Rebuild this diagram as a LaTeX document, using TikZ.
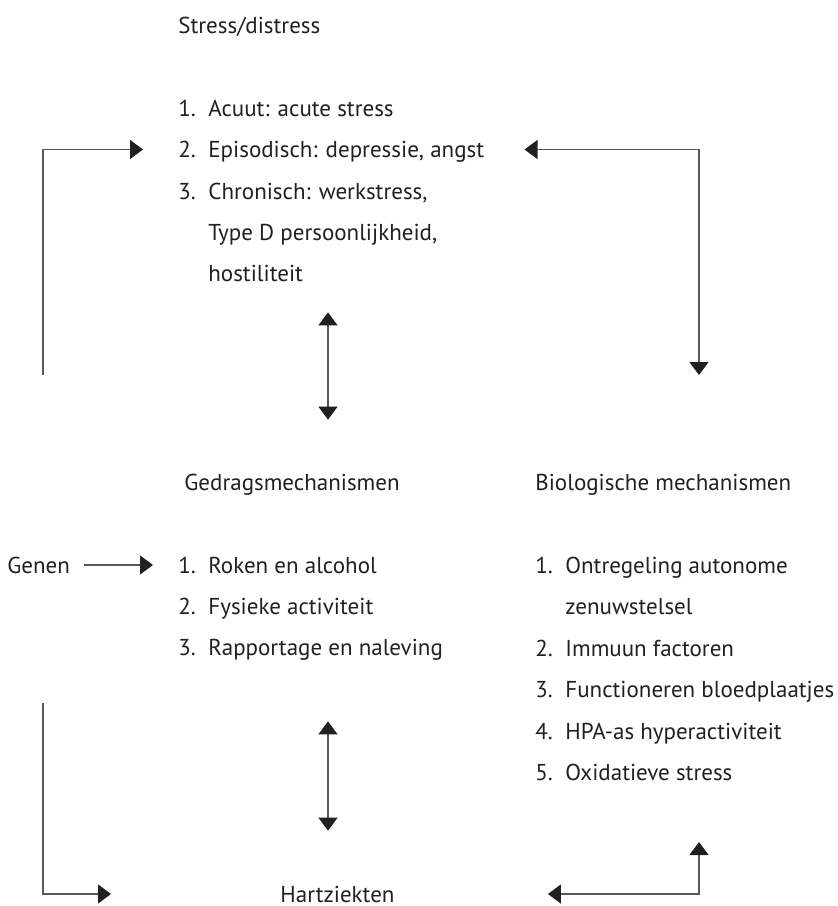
\documentclass[tikz,border=0pt]{standalone}
\usepackage{fontspec}
\setmainfont{PT Sans}
\usepackage{xcolor}
\usepackage{tikz}
\usetikzlibrary{positioning}
\usetikzlibrary{arrows.meta}

\definecolor{inkgray}{RGB}{35,31,32}
\newcommand{\nr}[1]{\makebox[15pt][l]{#1}}

\begin{document}
\begin{tikzpicture}[
  x=0.5pt, y=-0.5pt,
  every node/.style={inner sep=0pt, text=inkgray, font=\fontsize{11.5}{14}\selectfont},
  txt/.style={anchor=west, text height=8pt, text depth=0pt},
  link/.style={line width=0.6pt, draw=black!65, -{Triangle[length=6.5pt, width=9.5pt, color=inkgray]}},
  both/.style={line width=0.6pt, draw=black!65, {Triangle[length=6.5pt, width=9.5pt, color=inkgray]}-{Triangle[length=6.5pt, width=9.5pt, color=inkgray]}},
]
  \useasboundingbox (0,0) rectangle (838,906);

  % stress
  \node[txt] (stress) at (178,25) {Stress/distress};
  \node[txt] (acuut) at (178,108) {\nr{1.}Acuut: acute stress};
  \node[txt] (episod) at (178,149.5) {\nr{2.}Episodisch: depressie, angst};
  \node[txt] (chron) at (178,191) {\nr{3.}Chronisch: werkstress,};
  \node[txt] (typed) at (208,232) {Type D persoonlijkheid,};
  \node[txt] (host) at (208,273.5) {hostiliteit};

  % mechanismen
  \node[txt] (gedrag) at (184,482) {Gedragsmechanismen};
  \node[txt] (bio) at (535,482) {Biologische mechanismen};

  \node[txt] (genen) at (7,565) {Genen};
  \node[txt] (roken) at (178,565) {\nr{1.}Roken en alcohol};
  \node[txt] (fysiek) at (178,606) {\nr{2.}Fysieke activiteit};
  \node[txt] (rapport) at (178,647) {\nr{3.}Rapportage en naleving};

  \node[txt] (ontreg) at (535,565) {\nr{1.}Ontregeling autonome};
  \node[txt] (zenuw) at (565,606) {zenuwstelsel};
  \node[txt] (immuun) at (535,648) {\nr{2.}Immuun factoren};
  \node[txt] (bloed) at (535,689.5) {\nr{3.}Functioneren bloedplaatjes};
  \node[txt] (hpa) at (535,731) {\nr{4.}HPA-as hyperactiviteit};
  \node[txt] (oxid) at (535,772) {\nr{5.}Oxidatieve stress};

  % uitkomst
  \node[txt] (hart) at (280,894) {Hartziekten};

  \coordinate (lt) at (43,375);
  \coordinate (rt) at (699,375);
  \coordinate (m1) at (328,0);
  \coordinate (lb) at (43,703);
  \coordinate (rb) at (699,842);

  \draw[link, shorten >=17.5pt] (lt) |- (episod.west);
  \draw[both, shorten <=20pt] (episod.east) -| (rt);
  \draw[both, shorten <=15.25pt, shorten >=27pt] (host.south -| m1) -- (gedrag.north -| m1);
  \draw[link, shorten <=7pt, shorten >=12.5pt] (genen.east) -- (roken.west);
  \draw[both, shorten <=33pt, shorten >=27.5pt] (rapport.south -| m1) -- (hart.north -| m1);
  \draw[link, shorten >=84.5pt] (lb) |- (hart.west);
  \draw[both, shorten <=76.5pt] (hart.east) -| (rb);
\end{tikzpicture}
\end{document}
